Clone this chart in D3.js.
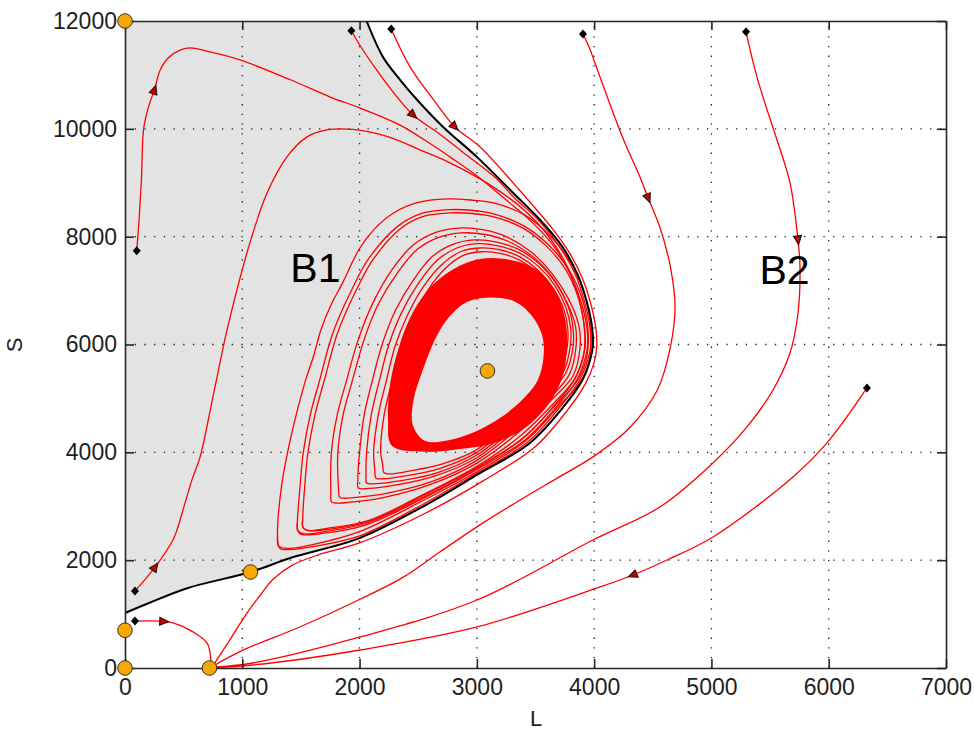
<!DOCTYPE html>
<html>
<head>
<meta charset="utf-8">
<script src="https://cdn.jsdelivr.net/npm/d3@7"></script>
<style>
  html, body { margin: 0; padding: 0; background: #ffffff; }
  svg { display: block; font-family: "Liberation Sans", Arial, Helvetica, sans-serif; }
</style>
</head>
<body>
<svg id="chart" width="974" height="732"></svg>
<script>
// ---- axis ticks ----
const xTicks = [0, 1000, 2000, 3000, 4000, 5000, 6000, 7000];
const yTicks = [0, 2000, 4000, 6000, 8000, 10000, 12000];

// ---- equilibria (L, S) ----
const equilibria = [[0, 12000], [0, 0], [0, 700], [720, 0], [1070, 1780], [3090, 5510]];

// ---- separatrix bounding basin B1 ----
const separatrix = [[0,1020],[210,1210],[530,1480],[1070,1780],[1410,2040],[2000,2410],[2520,2970],
  [3000,3580],[3450,4170],[3730,4820],[3900,5340],[3965,5710],[3990,5990],[3980,6360],[3940,6770],
  [3860,7290],[3730,7810],[3540,8310],[3310,8810],[3000,9480],[2710,10040],[2490,10540],[2345,10910],
  [2200,11330],[2060,12000]];

// ---- trajectories spiralling inside B1 (entry parts) ----
const trajD4 = [[1930,11820],[2000,11560],[2130,11140],[2280,10700],[2455,10260],[2690,9890],[2920,9500],
  [3150,9110],[3330,8700],[3520,8320],[3700,7830],[3840,7300],[3920,6780],[3962,6360],[3972,5990],
  [3945,5710],[3875,5330],[3705,4830],[3435,4190],[2990,3600],[2510,3000],[2000,2450],[1600,2250],
  [1400,2195],[1320,2220],[1300,2450]];
const trajT1 = [[100,7740],[120,8310],[140,9050],[160,10020],[205,10440],[250,10720],[300,11090],[370,11320],
  [470,11460],[560,11500],[700,11440],[980,11280],[1410,10910],[1750,10590],[2000,10390],[2345,10070],
  [2620,9700],[2770,9480],[3000,9130],[3250,8680],[3470,8270],[3660,7810],[3800,7290],[3890,6780],
  [3935,6360],[3945,5990],[3920,5720],[3850,5330],[3680,4850],[3410,4230],[3000,3680],[2500,3100],
  [2050,2650],[1700,2500],[1500,2480],[1470,2560],[1470,2700]];
const trajT2 = [[85,1430],[170,1640],[256,1870],[410,2380],[443,2560],[571,3490],[640,3910],[750,5030],
  [870,6270],[1006,7440],[1091,8070],[1211,8810],[1381,9480],[1552,9850],[1722,9980],[1944,9990],
  [2234,9860],[2515,9610],[2771,9370],[3112,8960],[3400,8500],[3600,8040],[3770,7450],[3870,6850],
  [3915,6360],[3925,5990],[3900,5730],[3830,5340],[3660,4870],[3390,4250],[3000,3720],[2500,3150],
  [2080,2720],[1760,2580],[1560,2550],[1515,2620],[1515,2750]];

// ---- successive laps of the spiral (outer to inner) ----
const lap1 = [[1300,2450],[1330,3300],[1390,4040],[1460,4700],[1540,5340],[1610,5800],[1670,6270],[1760,6750],
  [1850,7120],[2000,7780],[2130,8150],[2290,8440],[2490,8630],[2750,8700],[2950,8680],[3150,8620],[3410,8400],
  [3640,7980],[3810,7480],[3920,6920],[3968,6360],[3965,5780],[3890,5320],[3700,4860],[3420,4220],[3000,3640],
  [2500,3060],[2000,2530],[1600,2290],[1400,2220],[1310,2260]];
const lap2 = [[1470,2700],[1490,3300],[1520,4000],[1580,4700],[1660,5340],[1770,6200],[1930,7000],[2080,7600],
  [2330,8200],[2530,8430],[2760,8500],[2950,8490],[3150,8420],[3400,8200],[3610,7850],[3780,7400],[3890,6900],
  [3945,6350],[3940,5800],[3860,5340],[3680,4900],[3400,4280],[3000,3700],[2500,3120],[2050,2680],[1700,2530],
  [1520,2490],[1475,2550]];
const lap3 = [[1515,2750],[1530,3300],[1560,4000],[1620,4700],[1700,5340],[1810,6200],[1970,7000],[2110,7560],
  [2350,8150],[2550,8380],[2770,8440],[2960,8430],[3160,8360],[3400,8150],[3600,7810],[3760,7380],[3860,6900],
  [3915,6350],[3910,5800],[3830,5350],[3660,4920],[3380,4320],[3000,3740],[2500,3170],[2080,2740],[1720,2590],
  [1560,2550],[1518,2600]];
const lap4 = [[1760,3080],[1755,3250],[1760,4000],[1810,4700],[1890,5340],[1990,6100],[2120,6800],[2280,7400],
  [2460,7850],[2650,8080],[2850,8160],[3050,8130],[3250,8000],[3460,7720],[3640,7320],[3780,6850],[3870,6350],
  [3880,5950],[3820,5420],[3640,4980],[3360,4380],[3000,3800],[2600,3400],[2200,3160],[1900,3070],[1790,3060]];
const lap5 = [[1830,3170],[1820,3350],[1815,4000],[1860,4700],[1940,5340],[2040,6100],[2160,6750],[2320,7320],
  [2490,7760],[2680,7990],[2870,8070],[3070,8040],[3270,7910],[3470,7640],[3640,7260],[3760,6820],[3840,6350],
  [3845,5950],[3790,5450],[3620,5000],[3340,4420],[3000,3850],[2620,3460],[2230,3240],[1950,3160],[1860,3150]];
const lap6 = [[1990,3340],[1985,3500],[2000,4000],[2040,4700],[2110,5340],[2200,6050],[2310,6650],[2460,7200],
  [2620,7630],[2800,7860],[2980,7940],[3170,7900],[3360,7760],[3530,7500],[3680,7120],[3780,6700],[3820,6300],
  [3820,5950],[3760,5480],[3600,5050],[3330,4470],[3000,3900],[2640,3560],[2300,3390],[2080,3330]];
const lap7 = [[2060,3430],[2055,3580],[2060,4000],[2100,4700],[2170,5340],[2250,6000],[2360,6600],[2500,7130],
  [2660,7560],[2830,7790],[3000,7870],[3180,7830],[3370,7690],[3530,7440],[3670,7080],[3760,6680],[3800,6300],
  [3795,5950],[3740,5500],[3580,5080],[3320,4520],[3000,3950],[2660,3620],[2340,3470],[2140,3420]];
const lap8 = [[2140,3520],[2130,3680],[2120,4000],[2160,4700],[2230,5340],[2300,5950],[2410,6550],[2540,7060],
  [2700,7480],[2860,7720],[3020,7790],[3190,7760],[3370,7620],[3520,7380],[3650,7040],[3740,6660],[3775,6300],
  [3770,5950],[3715,5520],[3560,5110],[3310,4570],[3000,4000],[2680,3700],[2380,3560],[2200,3510]];
const lap9 = [[2210,3620],[2195,3800],[2180,4000],[2210,4700],[2280,5340],[2350,5900],[2460,6500],[2580,7000],
  [2730,7410],[2880,7650],[3040,7720],[3200,7690],[3370,7560],[3510,7330],[3630,7000],[3720,6640],[3755,6300],
  [3750,5950],[3695,5550],[3545,5140],[3300,4610],[3000,4050],[2700,3780],[2420,3650],[2260,3600]];
const spiralLaps = [lap1, lap2, lap3, lap4, lap5, lap6, lap7, lap8, lap9];

// ---- densely wound band around the focus: outer and inner rims ----
const bandOuter = [[2276,4120],[2242,4600],[2259,5250],[2328,5899],[2430,6493],[2583,7012],[2788,7383],
  [3027,7587],[3283,7568],[3513,7383],[3666,7012],[3751,6493],[3768,5936],[3726,5380],[3606,4879],
  [3410,4452],[3155,4180],[2856,4060],[2558,4010]];
const bandInner = [[3110,6870],[3330,6790],[3470,6530],[3555,6180],[3570,5810],[3520,5340],[3385,4970],
  [3200,4640],[2985,4380],[2770,4230],[2560,4210],[2455,4500],[2460,4970],[2540,5530],[2640,6080],
  [2745,6460],[2900,6770]];

// ---- trajectories in basin B2 and near the axes ----
const trajD5 = [[2270,11850],[2430,11150],[2630,10540],[2810,10040],[3030,9660],[3340,8920],[3650,8130],
  [3790,7700],[3905,7200],[3978,6700],[4015,6300],[4022,5950],[3998,5650],[3925,5270],[3765,4760],
  [3495,4100],[3060,3480],[2560,2870],[2000,2320],[1650,2100],[1420,1900],[1260,1640],[1150,1340],
  [1040,1020],[940,680],[840,340],[760,80],[730,10]];
const trajD6 = [[3905,11760],[3960,11500],[4050,10960],[4250,9800],[4390,9110],[4460,8720],[4560,8180],
  [4650,7440],[4690,6700],[4650,5950],[4540,5160],[4300,4450],[4000,3930],[3700,3540],[3380,3130],
  [3030,2660],[2690,2160],[2370,1680],[2000,1270],[1500,770],[1006,330],[730,10]];
const trajD7 = [[5295,11800],[5388,10963],[5525,10017],[5559,9794],[5670,8997],[5738,7940],[5755,7439],
  [5738,6585],[5670,5843],[5525,5157],[5303,4471],[5013,3803],[4561,2987],[3990,2374],
  [3001,1261],[2004,575],[1091,93],[730,10]];
const trajD8 = [[6326,5194],[5985,4174],[5695,3543],[5013,2430],[4621,2003],[4331,1725],[4050,1503],
  [3001,761],[2004,334],[1091,56],[730,10]];
const trajD3 = [[85,870],[300,870],[410,835],[580,670],[700,460],[730,200],[730,10]];

// ---- direction markers on each trajectory ----
const arrowMarks = [
  { traj: trajT1, at: [250,10720] },
  { traj: trajT2, at: [256,1870] },
  { traj: trajD3, at: [330,865] },
  { traj: trajD4, at: [2455,10260] },
  { traj: trajD5, at: [2810,10040] },
  { traj: trajD6, at: [4460,8720] },
  { traj: trajD7, at: [5738,7940] },
  { traj: trajD8, at: [4331,1725] }
];
const startTrajs = [trajT1, trajT2, trajD3, trajD4, trajD5, trajD6, trajD7, trajD8];

// ---- region labels ----
const regionLabels = [{ text: "B1", at: [1410, 7150] }, { text: "B2", at: [5410, 7130] }];

// ================= drawing =================
const svg = d3.select("#chart");
const x = d3.scaleLinear().domain([0, 7000]).range([125, 946]);
const y = d3.scaleLinear().domain([0, 12000]).range([668, 21]);

const lineOpen = d3.line().x(d => x(d[0])).y(d => y(d[1])).curve(d3.curveCatmullRom.alpha(0.5));
const lineClosed = d3.line().x(d => x(d[0])).y(d => y(d[1])).curve(d3.curveCatmullRomClosed.alpha(0.5));

svg.append("defs").append("clipPath").attr("id", "plotClip")
  .append("rect").attr("x", x(0)).attr("y", y(12000))
  .attr("width", x(7000) - x(0)).attr("height", y(0) - y(12000));

const plot = svg.append("g").attr("clip-path", "url(#plotClip)");

// basin B1 shading
plot.append("path")
  .attr("d", lineOpen(separatrix) + `L${x(0)},${y(12000)}Z`)
  .attr("fill", "#e3e3e3");

// dotted grid
const grid = plot.append("g").attr("stroke", "#1a1a1a").attr("stroke-width", 1.3)
  .attr("stroke-dasharray", "1.3,8.4");
grid.selectAll("line.gx").data(xTicks.slice(1, -1)).join("line")
  .attr("x1", d => x(d)).attr("x2", d => x(d)).attr("y1", y(0)).attr("y2", y(12000));
grid.selectAll("line.gy").data(yTicks.slice(1, -1)).join("line")
  .attr("y1", d => y(d)).attr("y2", d => y(d)).attr("x1", x(0)).attr("x2", x(7000));

// dense band of windings
plot.append("path")
  .attr("d", lineClosed(bandOuter) + lineClosed(bandInner))
  .attr("fill", "#ff0000").attr("fill-rule", "evenodd");

const red = plot.append("g").attr("fill", "none").attr("stroke", "#ff0000")
  .attr("stroke-width", 1.3).attr("stroke-linejoin", "round");

red.selectAll("path.lap").data(spiralLaps).join("path").attr("class", "lap")
  .attr("d", d => lineClosed(d));

red.selectAll("path.traj")
  .data([trajD4, trajT1, trajT2, trajD5, trajD6, trajD7, trajD8, trajD3]).join("path")
  .attr("class", "traj").attr("d", d => lineOpen(d));

// separatrix
plot.append("path").attr("d", lineOpen(separatrix))
  .attr("fill", "none").attr("stroke", "#000").attr("stroke-width", 2);

// direction arrows
function markAngle(traj, at) {
  let best = 0, bd = Infinity;
  traj.forEach((p, i) => {
    const dd = (x(p[0]) - x(at[0])) ** 2 + (y(p[1]) - y(at[1])) ** 2;
    if (dd < bd) { bd = dd; best = i; }
  });
  const a = traj[Math.max(best - 1, 0)], b = traj[Math.min(best + 1, traj.length - 1)];
  return Math.atan2(y(b[1]) - y(a[1]), x(b[0]) - x(a[0])) * 180 / Math.PI;
}
svg.append("g").selectAll("path").data(arrowMarks).join("path")
  .attr("d", "M5,0L-4,-4L-4,4Z")
  .attr("transform", d => `translate(${x(d.at[0])},${y(d.at[1])}) rotate(${markAngle(d.traj, d.at)})`)
  .attr("fill", "#c80000").attr("stroke", "#111").attr("stroke-width", 1);

// starting points
svg.append("g").selectAll("path").data(startTrajs).join("path")
  .attr("d", "M0,-4.5L4,0L0,4.5L-4,0Z")
  .attr("transform", d => `translate(${x(d[0][0])},${y(d[0][1])})`)
  .attr("fill", "#000");

// axes (box with inward ticks)
const axisColor = "#262626";
function styleAxis(g, showText) {
  g.select(".domain").attr("stroke", axisColor).attr("stroke-width", 1.6);
  g.selectAll(".tick line").attr("stroke", axisColor).attr("stroke-width", 1.6);
  g.selectAll(".tick text").attr("fill", "#1e1e1e").style("font-size", "23px")
    .style("font-family", "'Liberation Sans', Arial, sans-serif");
  if (!showText) g.selectAll(".tick text").remove();
}
svg.append("g").attr("transform", `translate(0,${y(0)})`)
  .call(d3.axisBottom(x).tickValues(xTicks).tickSizeInner(-9).tickSizeOuter(0).tickPadding(11).tickFormat(d3.format("d")))
  .call(g => styleAxis(g, true));
svg.append("g").attr("transform", `translate(0,${y(12000)})`)
  .call(d3.axisTop(x).tickValues(xTicks).tickSizeInner(-9).tickSizeOuter(0))
  .call(g => styleAxis(g, false));
svg.append("g").attr("transform", `translate(${x(0)},0)`)
  .call(d3.axisLeft(y).tickValues(yTicks).tickSizeInner(-9).tickSizeOuter(0).tickPadding(8).tickFormat(d3.format("d")))
  .call(g => styleAxis(g, true));
svg.append("g").attr("transform", `translate(${x(7000)},0)`)
  .call(d3.axisRight(y).tickValues(yTicks).tickSizeInner(-9).tickSizeOuter(0))
  .call(g => styleAxis(g, false));

// axis titles
svg.append("text").attr("x", 536).attr("y", 726).attr("text-anchor", "middle")
  .attr("fill", "#1e1e1e").style("font-size", "22px").text("L");
svg.append("text").attr("transform", "translate(22,345) rotate(-90)").attr("text-anchor", "middle")
  .attr("fill", "#1e1e1e").style("font-size", "22px").text("S");

// basin labels
svg.append("g").selectAll("text").data(regionLabels).join("text")
  .attr("x", d => x(d.at[0])).attr("y", d => y(d.at[1]))
  .attr("fill", "#000").style("font-size", "41px").text(d => d.text);

// equilibria
svg.append("g").selectAll("circle").data(equilibria).join("circle")
  .attr("cx", d => x(d[0])).attr("cy", d => y(d[1])).attr("r", 7.3)
  .attr("fill", "#f7a800").attr("stroke", "#333").attr("stroke-width", 1);
</script>
</body>
</html>
